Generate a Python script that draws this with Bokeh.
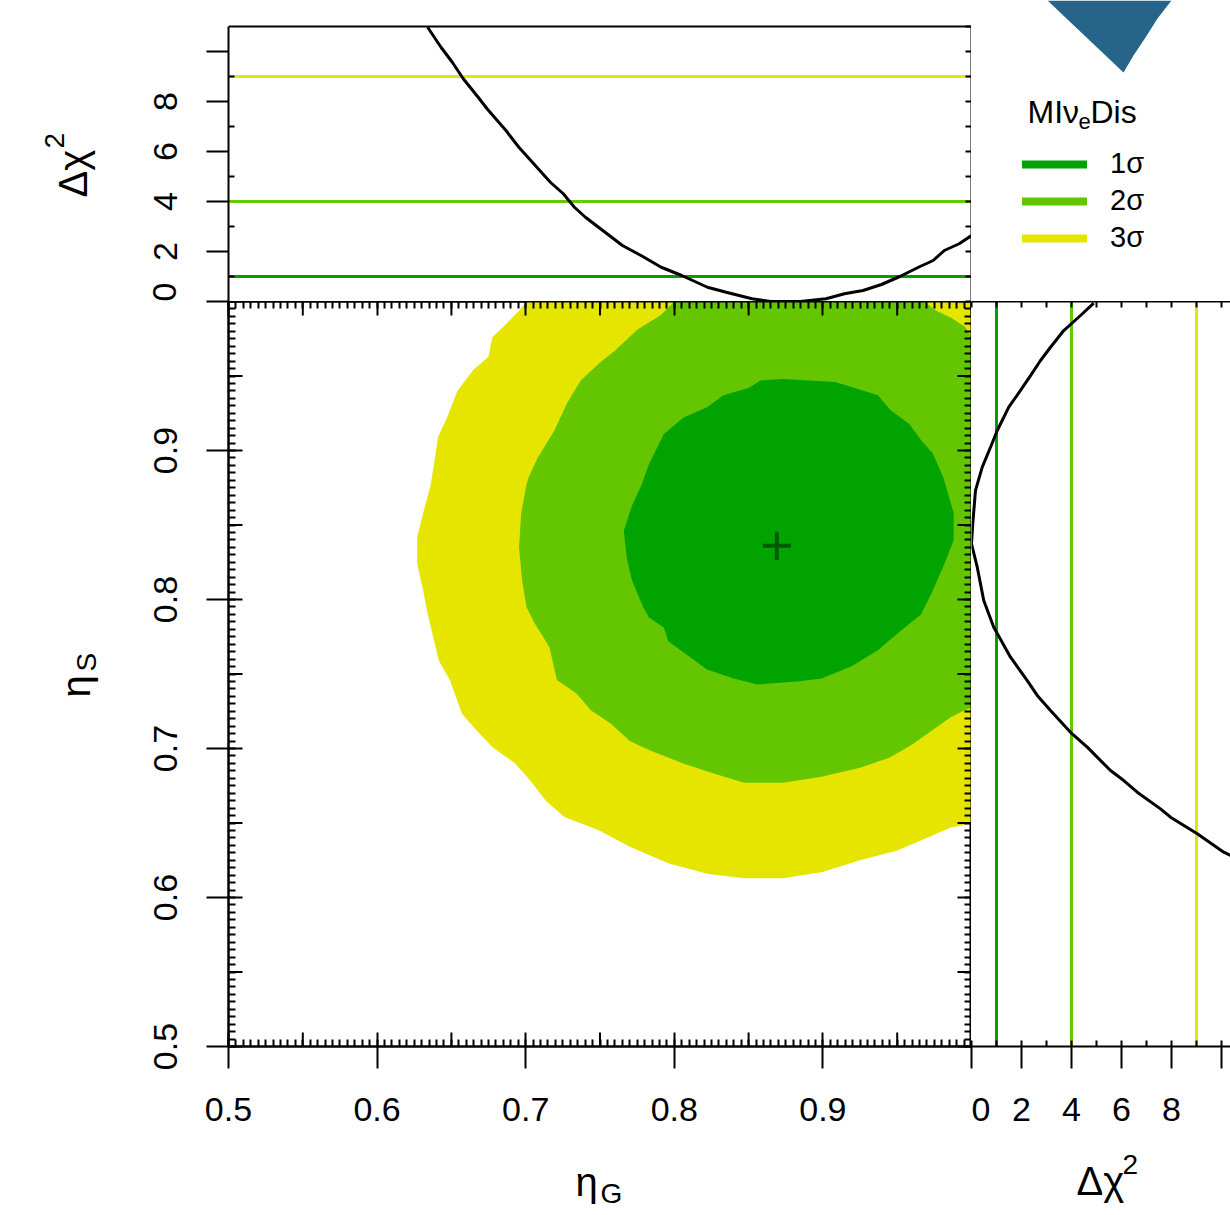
import numpy as np
from bokeh.plotting import figure
from bokeh.models import (Range1d, LinearAxis, FixedTicker, CustomJSTickFormatter,
                          Label, Span, Legend, LegendItem, Spacer)
from bokeh.layouts import row, column
from bokeh.embed import file_html
from bokeh.resources import INLINE

# ------------------------------------------------------------------ data
best_fit_eta_g = [0.869]
best_fit_eta_s = [0.836]

sigma_levels = [1.0, 4.0, 9.0]
sigma_labels = ["1σ", "2σ", "3σ"]
sigma_colors = ["#00a300", "#63c600", "#e5e500"]
sigma_line_colors = ["#00a000", "#66c800", "#e5e500"]

# 3 sigma allowed region (clipped at eta_G = 1 and eta_S = 1)
c3_eta_g = [0.7007, 0.6956, 0.685, 0.6775, 0.675, 0.6647, 0.654, 0.647, 0.641, 0.639,
            0.636, 0.631, 0.627, 0.627, 0.631, 0.634, 0.6415, 0.649, 0.657, 0.667,
            0.6775, 0.693, 0.703, 0.7135, 0.726, 0.7496, 0.770, 0.796, 0.822, 0.847,
            0.873, 0.899, 0.925, 0.950, 0.971, 0.986, 1.0, 1.0]
c3_eta_s = [1.0, 0.994, 0.983, 0.976, 0.963, 0.954, 0.940, 0.922, 0.909, 0.8955,
            0.8765, 0.858, 0.842, 0.824, 0.806, 0.7906, 0.759, 0.746, 0.7235, 0.712,
            0.701, 0.690, 0.6785, 0.665, 0.654, 0.645, 0.634, 0.623, 0.616, 0.613,
            0.613, 0.617, 0.625, 0.6315, 0.6405, 0.647, 0.6495, 1.0]

# 2 sigma allowed region
c2_eta_g = [0.800, 0.791, 0.775, 0.760, 0.750, 0.737, 0.728, 0.719, 0.708, 0.702,
            0.7005, 0.697, 0.6955, 0.6976, 0.7005, 0.706, 0.716, 0.721, 0.734, 0.744,
            0.757, 0.770, 0.783, 0.806, 0.827, 0.847, 0.873, 0.899, 0.925, 0.945,
            0.9606, 0.976, 0.986, 0.995, 1.0, 1.0, 0.9956, 0.9865, 0.976, 0.968]
c2_eta_s = [1.0, 0.991, 0.981, 0.967, 0.959, 0.947, 0.932, 0.913, 0.895, 0.882,
            0.877, 0.858, 0.835, 0.813, 0.795, 0.784, 0.768, 0.746, 0.737, 0.7255,
            0.717, 0.705, 0.699, 0.690, 0.683, 0.677, 0.677, 0.681, 0.687, 0.694,
            0.703, 0.714, 0.721, 0.7255, 0.7275, 0.976, 0.983, 0.989, 0.994, 1.0]

# 1 sigma allowed region
c1_eta_g = [0.858, 0.873, 0.908, 0.915, 0.937, 0.9455, 0.958, 0.966, 0.974, 0.981,
            0.988, 0.988, 0.981, 0.973, 0.966, 0.950, 0.937, 0.919, 0.899, 0.883,
            0.856, 0.840, 0.822, 0.811, 0.796, 0.793, 0.783, 0.779, 0.7715, 0.768,
            0.766, 0.7715, 0.778, 0.783, 0.793, 0.806, 0.822, 0.833, 0.850]
c1_eta_s = [0.947, 0.948, 0.946, 0.944, 0.937, 0.927, 0.918, 0.907, 0.898, 0.882,
            0.858, 0.840, 0.822, 0.804, 0.790, 0.777, 0.766, 0.755, 0.747, 0.745,
            0.743, 0.747, 0.753, 0.761, 0.772, 0.781, 0.788, 0.795, 0.813, 0.828,
            0.846, 0.863, 0.877, 0.891, 0.911, 0.922, 0.929, 0.937, 0.942]

# profile of delta chi^2 versus eta_G (top panel)
prof_g_eta = [0.634, 0.643, 0.6506, 0.658, 0.668, 0.674, 0.6867, 0.6954, 0.7054, 0.7166,
              0.7253, 0.7328, 0.7402, 0.749, 0.7651, 0.7776, 0.7912, 0.805, 0.8223, 0.8349,
              0.8523, 0.8647, 0.8847, 0.9021, 0.9145, 0.927, 0.9394, 0.9518, 0.9643, 0.9742,
              0.9817, 0.9917, 1.0]
prof_g_chi2 = [10.97, 10.17, 9.57, 8.91, 8.17, 7.71, 6.84, 6.17, 5.51, 4.77,
               4.31, 3.77, 3.37, 2.97, 2.24, 1.84, 1.37, 1.04, 0.57, 0.37,
               0.11, 0.0, 0.0, 0.11, 0.31, 0.44, 0.68, 1.0, 1.37, 1.64,
               2.04, 2.31, 2.64]

# profile of delta chi^2 versus eta_S (right panel)
prof_s_eta = [0.9989, 0.9906, 0.9805, 0.9693, 0.9604, 0.9503, 0.9403, 0.9291, 0.9134, 0.9022,
              0.8888, 0.8732, 0.8508, 0.8374, 0.8217, 0.7993, 0.7814, 0.7613, 0.7456, 0.7356,
              0.7255, 0.7109, 0.7009, 0.6852, 0.6785, 0.6707, 0.6595, 0.6539, 0.6428, 0.6304,
              0.6282]
prof_s_chi2 = [4.89, 4.36, 3.69, 3.16, 2.76, 2.36, 1.96, 1.49, 1.03, 0.76,
               0.43, 0.16, 0.05, 0.0, 0.23, 0.49, 0.89, 1.56, 2.23, 2.63,
               3.16, 3.96, 4.63, 5.56, 6.09, 6.63, 7.56, 7.96, 9.03, 10.09,
               10.36]

# ticks / axis limits
eta_ticks = [0.5, 0.6, 0.7, 0.8, 0.9, 1.0]
eta_mid_ticks = [0.55, 0.65, 0.75, 0.85, 0.95]
eta_minor_ticks = [round(v, 3) for v in np.arange(0.5, 1.0001, 0.005)]
chi2_major_ticks = [0, 2, 4, 6, 8, 10]
chi2_minor_ticks = [1, 3, 5, 7, 9]
chi2_unit_ticks = list(range(0, 12))
chi2_top = 11

# decorative logo corner (panel pixel units)
logo_x = [76, 152, 162, 174, 186, 200]
logo_y = [301, 229, 246, 264, 283, 301]

FONT = "Liberation Sans"
TICK_FS = "34px"
TITLE_FS = "40px"
SUB_FS = "28px"

# layout sizes (pixels)
COL0, LEFT_B, FRAME_W, COL2 = 120, 108, 743, 259
ROW0, MAIN_FRAME_H, BOTTOM_B, ROW2 = 301, 745, 100, 69
PX_PER_CHI2 = 25.0


# ------------------------------------------------------------------ helpers
def base_fig(w, h, xr, yr, left, right, top, bottom):
    p = figure(width=w, height=h, x_range=xr, y_range=yr,
               output_backend="svg", toolbar_location=None,
               x_axis_location=None, y_axis_location=None,
               min_border_left=left, min_border_right=right,
               min_border_top=top, min_border_bottom=bottom,
               background_fill_color="white", border_fill_color="white",
               outline_line_color=None)
    p.grid.visible = False
    return p


def styled_axis(ticks, minor, tin, tout, mtin, labelled, fmt_code, standoff=30, bounds=None):
    ax = LinearAxis(ticker=FixedTicker(ticks=ticks, minor_ticks=minor))
    if bounds is not None:
        ax.bounds = bounds
    ax.axis_line_color = "black"
    ax.axis_line_width = 2
    ax.major_tick_line_color = "black"
    ax.major_tick_line_width = 2
    ax.minor_tick_line_color = "black"
    ax.minor_tick_line_width = 2
    ax.major_tick_in = tin
    ax.major_tick_out = tout
    ax.minor_tick_in = mtin
    ax.minor_tick_out = 0
    if labelled:
        ax.formatter = CustomJSTickFormatter(code=fmt_code)
        ax.major_label_text_font = FONT
        ax.major_label_text_font_size = TICK_FS
        ax.major_label_text_color = "black"
        ax.major_label_standoff = standoff
    else:
        ax.formatter = CustomJSTickFormatter(code="return '';")
        ax.major_label_text_font_size = "0px"
        ax.major_label_standoff = 0
    return ax


def title_label(p, text, sx, sy, size, angle=0.0):
    p.add_layout(Label(x=sx, y=sy, x_units="screen", y_units="screen", text=text,
                       text_font=FONT, text_font_size=size, text_color="black",
                       text_align="left", text_baseline="alphabetic", angle=angle))


def text_panel(w, h, bottom=0):
    return base_fig(w, h, Range1d(0, w), Range1d(0, h - bottom), 0, 0, 0, bottom)


x_eta = Range1d(0.5, 1.0)
y_eta = Range1d(0.5, 1.0)

# ------------------------------------------------------------------ top panel
pA = base_fig(LEFT_B + FRAME_W, ROW0, x_eta, Range1d(0, ROW0 / PX_PER_CHI2),
              LEFT_B, 0, 0, 0)
axA_left = styled_axis(chi2_major_ticks, chi2_minor_ticks, 0, 22, 6, True,
                       "return tick > 9 ? '' : tick.toFixed(0);", bounds=(0, chi2_top))
axA_left.major_label_orientation = "vertical"
pA.add_layout(axA_left, "left")
axA_right = styled_axis(chi2_unit_ticks, [], 6, 0, 0, False, None, bounds=(0, chi2_top))
pA.add_layout(axA_right, "right")
pA.add_layout(Span(location=chi2_top, dimension="width", line_color="black", line_width=2))
for lv, col in zip(sigma_levels, sigma_line_colors):
    pA.add_layout(Span(location=lv, dimension="width", line_color=col, line_width=3,
                       level="underlay"))
pA.line(prof_g_eta, prof_g_chi2, line_color="black", line_width=3)

# title column next to the top panel
tA = text_panel(COL0, ROW0)
title_label(tA, "Δχ", 72, 104, TITLE_FS, np.pi / 2)
title_label(tA, "2", 54, 153, SUB_FS, np.pi / 2)

# ------------------------------------------------------------------ legend corner
pB = text_panel(COL2, ROW0)
pB.patch(logo_x, logo_y, fill_color="#26648a", line_color=None)
items = []
for lab, col in zip(sigma_labels, sigma_colors):
    r = pB.line(x=[np.nan], y=[np.nan], line_color=col, line_width=8, line_cap="round")
    items.append(LegendItem(label=lab, renderers=[r]))
leg = Legend(items=items, location=(51, 47), glyph_width=65, glyph_height=20,
             label_height=20, label_standoff=23, spacing=4, padding=0, margin=0,
             border_line_color=None, background_fill_alpha=0,
             label_text_font=FONT, label_text_font_size="29px",
             label_text_color="black")
pB.add_layout(leg)
title_label(pB, "MIν", 56, 190, "32px")
title_label(pB, "e", 107, 180, "22px")
title_label(pB, "Dis", 119, 190, "32px")

# ------------------------------------------------------------------ main panel
pC = base_fig(LEFT_B + FRAME_W, MAIN_FRAME_H + BOTTOM_B, x_eta, y_eta,
              LEFT_B, 0, 0, BOTTOM_B)
pC.outline_line_color = "black"
pC.outline_line_width = 2
pC.patch(c3_eta_g, c3_eta_s, fill_color=sigma_colors[2], line_color=None)
pC.patch(c2_eta_g, c2_eta_s, fill_color=sigma_colors[1], line_color=None)
pC.patch(c1_eta_g, c1_eta_s, fill_color=sigma_colors[0], line_color=None)
pC.scatter(best_fit_eta_g, best_fit_eta_s, marker="cross", size=28,
           line_color="#005a00", line_width=4)

axC_left = styled_axis(eta_ticks, eta_minor_ticks, 14, 22, 7, True,
                       "return tick > 0.99 ? '' : tick.toFixed(1);")
axC_left.major_label_orientation = "vertical"
pC.add_layout(axC_left, "left")
axC_bottom = styled_axis(eta_ticks, eta_minor_ticks, 14, 22, 7, True,
                         "return tick > 0.99 ? '' : tick.toFixed(1);", standoff=29)
pC.add_layout(axC_bottom, "below")
axC_top = styled_axis(eta_ticks, eta_minor_ticks, 14, 0, 7, False, None)
pC.add_layout(axC_top, "above")
axC_right = styled_axis(eta_ticks, eta_minor_ticks, 14, 0, 7, False, None)
pC.add_layout(axC_right, "right")

n_mid = len(eta_mid_ticks)
pC.ray(x=[0.5] * n_mid, y=eta_mid_ticks, length=14, length_units="screen", angle=0,
       line_color="black", line_width=2)
pC.ray(x=[1.0] * n_mid, y=eta_mid_ticks, length=14, length_units="screen", angle=np.pi,
       line_color="black", line_width=2)
pC.ray(x=eta_mid_ticks, y=[0.5] * n_mid, length=14, length_units="screen", angle=np.pi / 2,
       line_color="black", line_width=2)
pC.ray(x=eta_mid_ticks, y=[1.0] * n_mid, length=14, length_units="screen", angle=-np.pi / 2,
       line_color="black", line_width=2)

# title column next to the main panel (frame aligned with the main frame)
tC = text_panel(COL0, MAIN_FRAME_H + BOTTOM_B, bottom=BOTTOM_B)
title_label(tC, "η", 75, 349, TITLE_FS, np.pi / 2)
title_label(tC, "S", 86, 375, SUB_FS, np.pi / 2)

# ------------------------------------------------------------------ right panel
pD = base_fig(COL2, MAIN_FRAME_H + BOTTOM_B, Range1d(0, COL2 / PX_PER_CHI2), y_eta,
              0, 0, 0, BOTTOM_B)
axD_bottom = styled_axis(chi2_major_ticks, chi2_minor_ticks, 6, 22, 6, True,
                         "return tick > 9 ? '' : tick.toFixed(0);", standoff=29)
pD.add_layout(axD_bottom, "below")
axD_top = styled_axis(chi2_unit_ticks, [], 6, 0, 0, False, None)
pD.add_layout(axD_top, "above")
for lv, col in zip(sigma_levels, sigma_line_colors):
    pD.add_layout(Span(location=lv, dimension="height", line_color=col, line_width=3,
                       level="underlay"))
pD.line(prof_s_chi2, prof_s_eta, line_color="black", line_width=3)

# ------------------------------------------------------------------ bottom titles
tBottom = text_panel(LEFT_B + FRAME_W, ROW2)
title_label(tBottom, "η", 455, 34, TITLE_FS)
title_label(tBottom, "G", 480, 22, SUB_FS)

tRight = text_panel(COL2, ROW2)
title_label(tRight, "Δχ", 105, 35, TITLE_FS)
title_label(tRight, "2", 151, 51, SUB_FS)

layout = column(
    row(tA, pA, pB, spacing=0),
    row(tC, pC, pD, spacing=0),
    row(Spacer(width=COL0, height=ROW2), tBottom, tRight, spacing=0),
    spacing=0,
)

open("out.html", "w").write(file_html(layout, INLINE))
